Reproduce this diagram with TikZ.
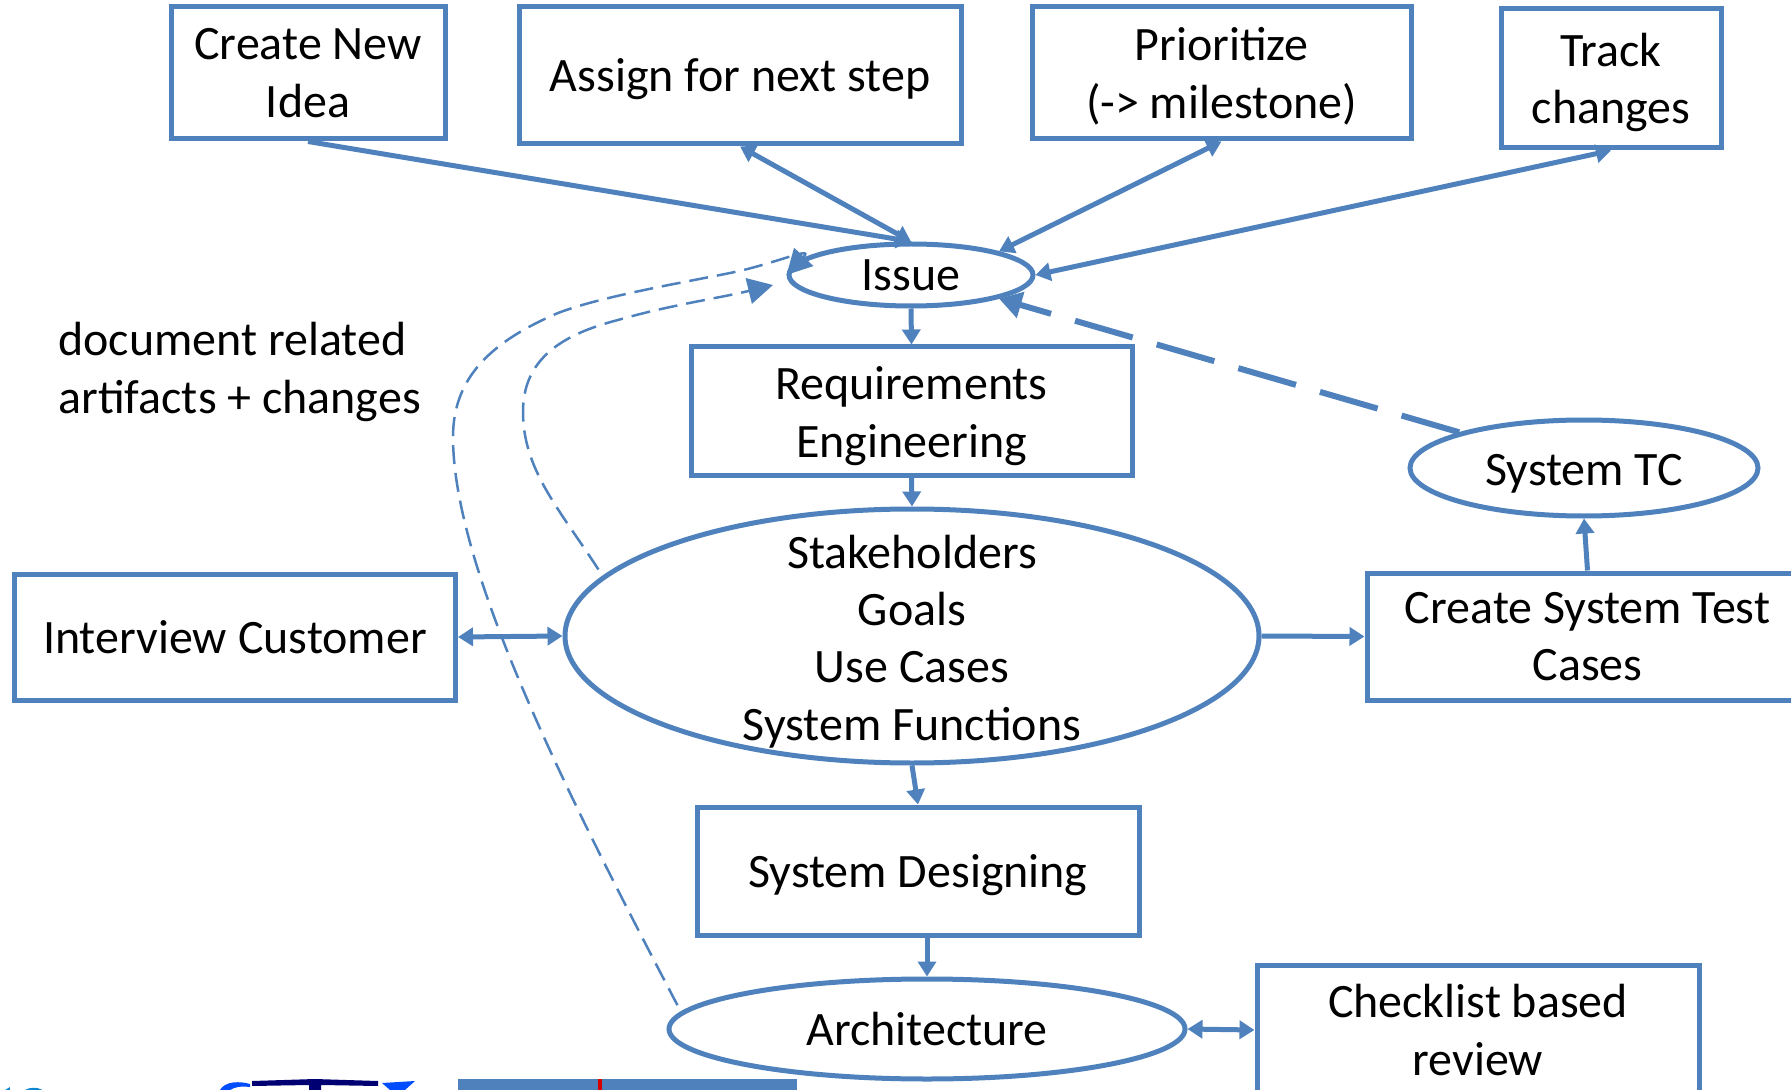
\documentclass[tikz,border=0pt]{standalone}
\usepackage{fontspec}
\setmainfont{Carlito}
\usetikzlibrary{arrows.meta,shapes.geometric}
\definecolor{linkblue}{HTML}{4F81BD}

\begin{document}
\begin{tikzpicture}[draw=linkblue, line width=0.1cm, >={Triangle[length=0.3cm,width=0.36cm]}]
    \tikzstyle{box}=[draw,rectangle,align=center,inner sep=0pt,font=\fontsize{27.3}{32.6}\selectfont]
    \tikzstyle{oval}=[draw,ellipse,align=center,inner sep=0pt,font=\fontsize{27.3}{32.6}\selectfont]
    \tikzstyle{annot}=[align=left,inner sep=0pt,font=\fontsize{27.3}{32.6}\selectfont]
    \tikzstyle{thin dash}=[line width=0.05cm,dash pattern=on 0.38cm off 0.18cm,shorten <=0.15cm,-{Triangle[length=0.5cm,width=0.52cm]}]
    \tikzstyle{thick dash}=[line width=0.12cm,dash pattern=on 1.2cm off 0.5cm,-{Triangle[length=0.45cm,width=0.52cm]}]

    \path[use as bounding box,clip] (0,0) rectangle (35.82,-21.8);

    \node[box,minimum width=5.48cm,minimum height=2.64cm] (Create) at (6.16,-1.46) {Create New\\Idea};
    \node[box,minimum width=8.84cm,minimum height=2.74cm] (Assign) at (14.8,-1.51) {\rule{0pt}{0.79cm}Assign for next step};
    \node[box,minimum width=7.58cm,minimum height=2.64cm] (Prior) at (24.43,-1.46) {\rule{0pt}{0.79cm}Prioritize\\(-> milestone)};
    \node[box,minimum width=4.4cm,minimum height=2.78cm] (Track) at (32.22,-1.57) {\rule{0pt}{0.83cm}Track\\changes};

    \node[oval,minimum width=4.88cm,minimum height=1.24cm] (Issue) at (18.22,-5.5) {Issue};
    \node[box,minimum width=8.82cm,minimum height=2.56cm] (Req) at (18.23,-8.22) {\rule{0pt}{0.87cm}Requirements\\Engineering};
    \node[oval,minimum width=13.88cm,minimum height=5.08cm] (Stake) at (18.24,-12.72) {};
    \node[annot,align=center,yshift=-0.11cm] (StakeText) at (Stake.center) {Stakeholders\\Goals\\Use Cases\\System Functions};
    \node[box,minimum width=8.82cm,minimum height=2.52cm] (Interview) at (4.7,-12.74) {Interview Customer};
    \node[box,minimum width=8.82cm,minimum height=2.54cm] (TestCases) at (31.75,-12.73) {Create System Test\\Cases};
    \node[oval,minimum width=6.96cm,minimum height=1.92cm] (SysTC) at (31.68,-9.36) {\rule{0pt}{0.87cm}System TC};
    \node[box,minimum width=8.84cm,minimum height=2.56cm] (Design) at (18.36,-17.42) {\rule{0pt}{0.83cm}System Designing};
    \node[oval,minimum width=10.32cm,minimum height=2cm] (Arch) at (18.54,-20.58) {Architecture};
    \node[box,minimum width=8.84cm,minimum height=2.6cm] (Review) at (29.56,-20.6) {Checklist based\\review};

    \node[annot,anchor=west] (Doc) at (1.12,-7.44) {document related\\artifacts + changes};

    \draw[->] (Create.south) -- (Issue.north);
    \foreach \source/\dest in {Assign/north,Prior/north east,Track/east}
        \draw[<->] (\source.south) -- (Issue.\dest);

    \draw[->] (Issue.south) -- (Req.north);
    \draw[->] (Req.south) -- (Stake.north);
    \draw[->] (Stake.south) -- (Design.north);
    \draw[->] (Design.south -| Arch.north) -- (Arch.north);
    \draw[<->] (Interview.east) -- (Stake.west);
    \draw[->] (Stake.east) -- (TestCases.west);
    \draw[->] (TestCases.north) -- (SysTC.south);
    \draw[<->] (Arch.east) -- (Review.west);
    \draw[thick dash] (SysTC.north west) -- (Issue.south east);

    % dashed feedback curves
    \coordinate (InnerEnd) at (15.46,-5.7);
    \draw[thin dash] (Arch.176.5) .. controls (11.4,-16) and (9.06,-11.4) .. (9.06,-8.74)
        .. controls (9.06,-7.5) and (9.9,-6.8) .. (11.16,-6.26)
        .. controls (12,-5.94) and (13.4,-5.7) .. (14.6,-5.46)
        .. controls (15.5,-5.28) and (16.3,-4.9) .. (Issue.west);
    \draw[thin dash] (Stake.169.5) .. controls (11.2,-10.2) and (10.46,-9.4) .. (10.46,-8.24)
        .. controls (10.46,-7.2) and (11.2,-6.7) .. (12.36,-6.4)
        .. controls (13.4,-6.1) and (14.4,-5.96) .. (InnerEnd);

    % cut off logos along the lower edge
    \fill[linkblue] (9.16,-21.58) rectangle (15.94,-21.8);
    \fill[red!85!black] (11.96,-21.58) rectangle (12.04,-21.8);
    \fill[blue!45!black] (5.04,-21.62) -- (6.3,-21.58) -- (7.56,-21.62) -- (7.56,-21.72) -- (6.42,-21.7) -- (6.42,-21.8) -- (6.18,-21.8) -- (6.18,-21.7) -- (5.04,-21.72) -- cycle;
    \fill[blue!70!cyan] (4.4,-21.8) .. controls (4.5,-21.62) and (4.8,-21.62) .. (5,-21.68) -- (5,-21.74) .. controls (4.8,-21.72) and (4.7,-21.74) .. (4.6,-21.8) -- cycle;
    \fill[blue!70!cyan] (7.64,-21.66) -- (8.3,-21.62) -- (8.1,-21.8) -- (7.8,-21.8) -- cycle;
    \fill[cyan!70!blue] (0.1,-21.8) -- (0.2,-21.74) -- (0.2,-21.8) -- cycle;
    \fill[cyan!70!blue] (0.5,-21.8) .. controls (0.6,-21.74) and (0.75,-21.74) .. (0.85,-21.8) -- cycle;
\end{tikzpicture}
\end{document}
